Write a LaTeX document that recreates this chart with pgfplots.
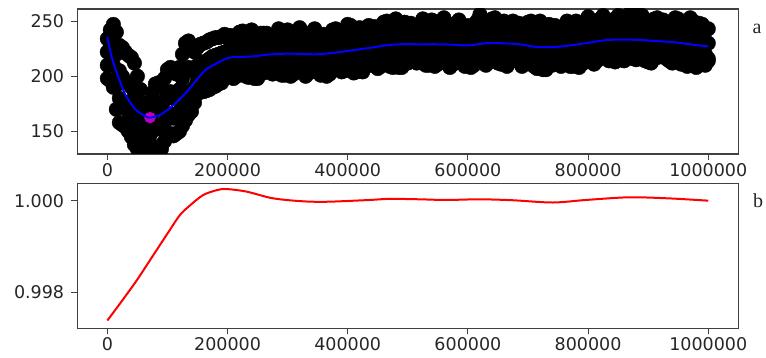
\documentclass[border=0pt]{standalone}
\usepackage{pgfplots}
\pgfplotsset{compat=1.18}
\usepackage{pgfplotstable}
\usepackage{fontspec}
\setmainfont{DejaVu Sans}
\newfontfamily\panelfont{Liberation Serif}
\definecolor{axisgray}{gray}{0.25}
\definecolor{mpmagenta}{rgb}{0.75,0,0.75}

% raw samples, four readings per step (even steps)
\pgfplotstableread{
x a b c d
0 234 222 210 198
10000 247 232 210 190
20000 228 205 180 158
30000 222 195 172 154
40000 217 190 165 145
50000 200 172 150 134
60000 176 160 145 133
70000 174 158 145 134
80000 193 172 155 135
90000 190 170 152 134
100000 206 185 165 148
110000 204 180 162 146
120000 208 188 168 150
130000 230 205 180 160
140000 224 205 185 168
150000 226 210 196 184
160000 230 212 198 186
170000 233 216 202 188
180000 235 219 205 191
190000 236 221 208 194
200000 235 223 212 202
210000 230 219 208 198
220000 240 227 215 206
230000 233 217 208 200
240000 242 229 216 204
250000 230 222 210 198
260000 239 226 213 203
270000 235 222 208 206
280000 238 226 215 205
290000 233 222 211 201
300000 242 229 217 208
310000 235 219 210 202
320000 244 231 218 206
330000 232 224 212 200
340000 240 227 214 204
350000 236 223 209 207
360000 238 226 215 205
370000 234 223 212 202
380000 243 230 218 209
390000 237 221 212 204
400000 247 234 221 209
410000 235 227 215 203
420000 244 231 218 208
430000 241 228 214 212
440000 243 231 220 210
450000 239 228 217 207
460000 249 236 224 215
470000 242 226 217 209
480000 252 239 226 214
490000 240 232 220 208
500000 248 235 222 212
510000 245 232 218 216
520000 247 235 224 214
530000 242 231 220 210
540000 251 238 226 217
550000 244 228 219 211
560000 253 240 227 215
570000 240 232 220 208
580000 248 235 222 212
590000 244 231 217 215
600000 246 234 223 213
610000 242 231 220 210
620000 256 241 228 216
630000 242 234 222 210
640000 252 239 227 218
650000 245 229 220 212
660000 250 237 224 214
670000 245 232 218 216
680000 247 235 224 214
690000 241 230 219 209
700000 249 236 224 215
710000 242 226 217 209
720000 250 237 224 212
730000 238 230 218 206
740000 246 233 220 210
750000 242 229 215 213
760000 245 233 222 212
770000 241 230 219 209
780000 250 237 225 216
790000 244 228 219 211
800000 254 241 228 216
810000 243 235 223 211
820000 252 239 226 216
830000 249 236 222 220
840000 251 239 228 218
850000 255 242 230 221
860000 246 235 224 214
870000 257 244 231 219
880000 248 232 223 215
890000 255 242 230 221
900000 245 237 225 213
910000 252 239 226 216
920000 248 235 221 219
930000 249 237 226 216
940000 244 233 222 212
950000 252 239 227 218
960000 244 228 219 211
970000 253 240 227 215
980000 240 232 220 208
990000 247 234 221 211
1000000 243 230 216 214
}\scatterdata

% raw samples, four readings per step (odd steps)
\pgfplotstableread{
x a b c d
5000 242 228 212 196
15000 240 220 192 170
25000 226 200 176 156
35000 219 194 168 150
45000 212 182 158 138
55000 188 165 146 133
65000 172 158 144 133
75000 185 166 150 134
85000 194 174 154 136
95000 198 178 158 141
105000 208 186 166 148
115000 202 182 164 148
125000 220 198 175 155
135000 232 208 186 165
145000 222 206 190 176
155000 229 213 198 186
165000 231 214 200 187
175000 234 218 204 190
185000 235 220 206 193
195000 238 222 210 198
205000 237 226 216 205
215000 232 221 210 200
225000 241 230 218 208
235000 235 223 214 199
245000 228 219 205 198
255000 239 226 215 203
265000 239 228 218 207
275000 234 223 212 202
285000 243 232 220 210
295000 237 225 216 201
305000 230 221 207 200
315000 241 228 217 205
325000 240 229 219 208
335000 235 224 213 203
345000 243 232 220 210
355000 237 225 216 201
365000 230 221 207 200
375000 242 229 218 206
385000 241 230 220 209
395000 237 226 215 205
405000 246 235 223 213
415000 240 228 219 204
425000 234 225 211 204
435000 246 233 222 210
445000 245 234 224 213
455000 241 230 219 209
465000 250 239 227 217
475000 244 232 223 208
485000 238 229 215 208
495000 249 236 225 213
505000 248 237 227 216
515000 244 233 222 212
525000 252 241 229 219
535000 246 234 225 210
545000 239 230 216 209
555000 250 237 226 214
565000 248 237 227 216
575000 243 232 221 211
585000 251 240 228 218
595000 245 233 224 209
605000 238 229 215 208
615000 250 237 226 214
625000 250 239 229 218
635000 245 234 223 213
645000 253 242 230 220
655000 247 235 226 211
665000 239 230 216 209
675000 250 237 226 214
685000 248 237 227 216
695000 243 232 221 211
705000 250 239 227 217
715000 243 231 222 207
725000 236 227 213 206
735000 247 234 223 211
745000 246 235 225 214
755000 241 230 219 209
765000 250 239 227 217
775000 245 233 224 209
785000 238 229 215 208
795000 250 237 226 214
805000 250 239 229 218
815000 246 235 224 214
825000 255 244 232 222
835000 250 238 229 214
845000 243 234 220 213
855000 254 241 230 218
865000 253 242 232 221
875000 248 237 226 216
885000 256 245 233 223
895000 250 238 229 214
905000 242 233 219 212
915000 253 240 229 217
925000 251 240 230 219
935000 246 235 224 214
945000 253 242 230 220
955000 247 235 226 211
965000 239 230 216 209
975000 250 237 226 214
985000 248 237 227 216
995000 242 231 220 210
}\scatterdataB

% smoothed trend of the samples
\pgfplotstableread{
x y
0 235.7
7300 217.4
18300 199.4
29400 184
46000 170.3
62600 164
71000 162.5
90000 165.6
112000 174.8
134000 187
162000 205
185000 212.5
204000 217
242000 218
270000 219.8
303000 220.5
337000 220
353000 220
380000 221.5
414000 224
440000 226
464000 228
486000 229
520000 229
553000 229
580000 228.5
602000 228
630000 230
652000 230
686000 229
713000 226.6
746000 226.6
770000 228
796000 230
835000 233
885000 233
910000 232
940000 231
970000 229
1000000 227
}\trenddata

% normalised ratio
\pgfplotstableread{
x y
0 0.99738
21000 0.99775
49000 0.99826
76000 0.99880
104000 0.99936
121000 0.99969
137000 0.99989
159000 1.00012
182000 1.00023
198000 1.000255
231000 1.00020
270000 1.000066
298000 1.000015
335000 0.99998
370000 0.999978
436000 1.000015
470000 1.00004
520000 1.00003
564000 1.000015
619000 1.00003
674000 1.00001
741000 0.99996
796000 1.000015
868000 1.000074
935000 1.00005
1000000 1.00000
}\ratiodata

\begin{document}
\begin{tikzpicture}
\path[use as bounding box] (0,0) rectangle (766pt,358pt);
\pgfplotsset{
  panel/.style={
    scale only axis, width=661pt,
    xmin=-50000, xmax=1050000,
    axis line style={axisgray, line width=1.1pt},
    tick style={axisgray, line width=1.1pt},
    tick align=outside, major tick length=6pt,
    xtick pos=bottom, ytick pos=left,
    xtick={0,200000,400000,600000,800000,1000000},
    xticklabels={0,200000,400000,600000,800000,1000000},
    scaled ticks=false,
    ticklabel style={font=\fontsize{17.5}{20}\selectfont, text=black!85, inner sep=0pt},
    xticklabel shift=3pt, yticklabel shift=7pt,
    /pgf/number format/assume math mode=true,
    clip marker paths=true,
  },
  dots/.style={only marks, mark=*, mark size=7.3pt, black},
}
\begin{axis}[panel, at={(77.3pt,204pt)}, anchor=south west, height=145pt,
  ymin=129.5, ymax=261,
  ytick={150,200,250}, yticklabels={150,200,250}]
  \addplot[dots] table[x=x,y=a]{\scatterdata};
  \addplot[dots] table[x=x,y=b]{\scatterdata};
  \addplot[dots] table[x=x,y=c]{\scatterdata};
  \addplot[dots] table[x=x,y=d]{\scatterdata};
  \addplot[dots] table[x=x,y=a]{\scatterdataB};
  \addplot[dots] table[x=x,y=b]{\scatterdataB};
  \addplot[dots] table[x=x,y=c]{\scatterdataB};
  \addplot[dots] table[x=x,y=d]{\scatterdataB};
  \addplot[only marks, mark=*, mark size=5.5pt, mpmagenta] coordinates {(71000,162.5)};
  \addplot[blue, line width=2pt, smooth] table[x=x,y=y]{\trenddata};
\end{axis}
\begin{axis}[panel, at={(77.3pt,29.7pt)}, anchor=south west, height=145pt,
  ymin=0.99721, ymax=1.00038,
  ytick={0.998,1.0}, yticklabels={0.998,1.000}]
  \addplot[red, line width=2pt, smooth] table[x=x,y=y]{\ratiodata};
\end{axis}
\node[font=\panelfont\fontsize{20}{24}\selectfont, text=black!85, anchor=base] at (757pt,324.5pt) {a};
\node[font=\panelfont\fontsize{20}{24}\selectfont, text=black!85, anchor=base] at (758pt,150.7pt) {b};
\end{tikzpicture}
\end{document}
